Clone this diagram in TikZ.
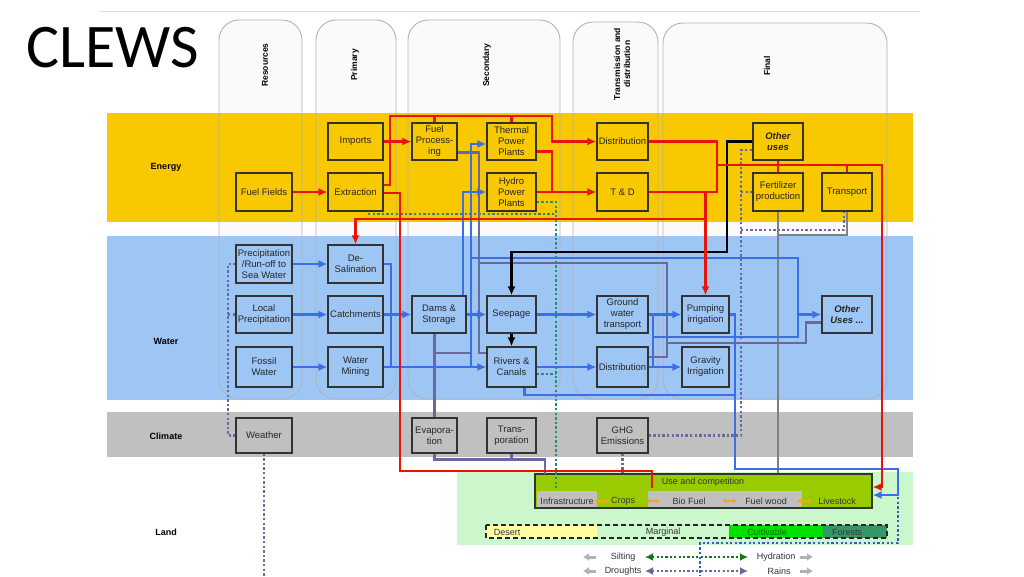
\documentclass[tikz,border=0pt]{standalone}
\usepackage{fontspec}
\setmainfont{Liberation Sans}
\newfontfamily\titlefont{Carlito}
\usetikzlibrary{arrows.meta,positioning,calc}
\definecolor{energy}{RGB}{248,200,0}
\definecolor{water}{RGB}{158,198,245}
\definecolor{climate}{RGB}{192,192,192}
\definecolor{land}{RGB}{204,247,204}
\definecolor{ucgreen}{RGB}{153,204,0}
\definecolor{eline}{RGB}{232,20,10}
\definecolor{wline}{RGB}{60,110,232}
\definecolor{sline}{RGB}{105,105,160}
\definecolor{gdot}{RGB}{40,140,110}
\definecolor{cultiv}{RGB}{0,225,0}
\definecolor{forest}{RGB}{55,150,105}
\definecolor{desert}{RGB}{255,255,160}
\definecolor{orangearr}{RGB}{245,165,40}
\definecolor{hydgreen}{RGB}{20,120,20}

\begin{document}
\begin{tikzpicture}[x=1pt,y=-1pt,
  box/.style={draw=black!80,line width=1.2pt,inner sep=0pt,align=center,text=black!85,
    font=\fontsize{9.5}{11}\selectfont,minimum width=56,minimum height=38},
  ebox/.style={box,fill=energy},
  wbox/.style={box,fill=water},
  cbox/.style={box,fill=climate},
  hdr/.style={rotate=90,font=\fontsize{8.5}{10}\selectfont\bfseries,align=center},
  band/.style={font=\fontsize{9}{10}\selectfont\bfseries},
  lbl/.style={inner sep=1pt,font=\fontsize{9}{10}\selectfont,text=black!80},
  eflow/.style={draw=eline,line width=2.8pt},
  wflow/.style={draw=wline,line width=2.8pt},
  sflow/.style={draw=sline,line width=2.5pt},
  kflow/.style={draw=black,line width=2.8pt},
  gline/.style={draw=gray,line width=2pt},
  dotline/.style={draw=sline,line width=2.3pt,dash pattern=on 2.3pt off 2.3pt},
  gdotline/.style={dotline,draw=gdot},
  tip/.style={-{Latex[length=9pt,width=8pt]}},
  col/.style={rounded corners=20pt}
]
\useasboundingbox (0,0) rectangle (1024,576);
\draw[gray!25,line width=0.8pt] (100,11) -- (920,11);
\node[font=\titlefont\fontsize{62}{62}\selectfont,inner sep=0pt] (title) at (113,48) {CLEWS};

% columns
\foreach \xa/\xb/\ya in {219/302/20, 316/396/20, 408/560/20, 573/658/22, 663/887/23}
  \fill[white!96!gray,col] (\xa,\ya) rectangle (\xb,399);

% bands
\fill[energy] (107,113) rectangle (913,222);
\fill[water] (107,236) rectangle (913,400);
\fill[climate] (107,412) rectangle (913,457);
\fill[land] (457,472) rectangle (913,545);
\foreach \xa/\xb/\ya in {219/302/20, 316/396/20, 408/560/20, 573/658/22, 663/887/23}
  \draw[gray!60,line width=0.9pt,col] (\xa,\ya) rectangle (\xb,399);

\node[band] (lenergy) at (166,167) {Energy};
\node[band] (lwater) at (166,341) {Water};
\node[band] (lclimate) at (166,436) {Climate};
\node[band] (lland) at (166,532) {Land};

\node[hdr] (hres) at (265,65) {Resources};
\node[hdr] (hprim) at (355,65) {Primary};
\node[hdr] (hsec) at (487,65) {Secondary};
\node[hdr] (htd) at (622,64) {Transmission and\\distribution};
\node[hdr] (hfin) at (767,66) {Final};

% energy boxes
\node[ebox,minimum width=55,minimum height=37] (imports) at (355.5,141.5) {Imports};
\node[ebox,minimum width=45,minimum height=37] (fuelproc) at (434.5,141.5) {Fuel\\Process-\\ing};
\node[ebox,minimum width=49,minimum height=37] (thermal) at (511.5,141.5) {Thermal\\Power\\Plants};
\node[ebox,minimum width=51,minimum height=37] (distE) at (622.5,141.5) {Distribution};
\node[ebox,minimum width=50,minimum height=37,font=\fontsize{9.5}{11}\selectfont\bfseries\itshape] (otherE) at (778,141.5) {Other\\uses};
\node[ebox] (fuelfields) at (264,192) {Fuel Fields};
\node[ebox,minimum width=55] (extraction) at (355.5,192) {Extraction};
\node[ebox,minimum width=49] (hydro) at (511.5,192) {Hydro\\Power\\Plants};
\node[ebox,minimum width=51] (td) at (622.5,192) {T \& D};
\node[ebox,minimum width=50] (fert) at (778,192) {Fertilizer\\production};
\node[ebox,minimum width=50] (transport) at (847,192) {Transport};

% water boxes
\node[wbox] (precip) at (264,264) {Precipitation\\/Run-off to\\Sea Water};
\node[wbox,minimum width=55] (desal) at (355.5,264) {De-\\Salination};
\node[wbox,minimum height=37] (localp) at (264,314.5) {Local\\Precipitation};
\node[wbox,minimum width=55,minimum height=37] (catch) at (355.5,314.5) {Catchments};
\node[wbox,minimum width=54,minimum height=37] (dams) at (439,314.5) {Dams \&\\Storage};
\node[wbox,minimum width=49,minimum height=37] (seepage) at (511.5,314.5) {Seepage};
\node[wbox,minimum width=51,minimum height=37] (gwt) at (622.5,314.5) {Ground\\water\\transport};
\node[wbox,minimum width=47,minimum height=37] (pump) at (705.5,314.5) {Pumping\\irrigation};
\node[wbox,minimum width=50,minimum height=37,font=\fontsize{9.5}{11}\selectfont\bfseries\itshape] (otherW) at (847,314.5) {Other\\Uses ...};
\node[wbox,minimum height=40] (fossil) at (264,367) {Fossil\\Water};
\node[wbox,minimum width=55,minimum height=40] (mining) at (355.5,367) {Water\\Mining};
\node[wbox,minimum width=49,minimum height=40] (rivers) at (511.5,367) {Rivers \&\\Canals};
\node[wbox,minimum width=51,minimum height=40] (distW) at (622.5,367) {Distribution};
\node[wbox,minimum width=47,minimum height=40] (gravity) at (705.5,367) {Gravity\\Irrigation};

% climate boxes
\node[cbox,minimum height=35] (weather) at (264,435.5) {Weather};
\node[cbox,minimum width=45,minimum height=35] (evap) at (434.5,435.5) {Evapora-\\tion};
\node[cbox,minimum width=49,minimum height=35] (transp) at (511.5,435.5) {Trans-\\poration};
\node[cbox,minimum width=51,minimum height=35] (ghg) at (622.5,435.5) {GHG\\Emissions};

% land use
\node[draw=black!80,line width=1.2pt,fill=ucgreen,minimum width=337,minimum height=34,inner sep=0pt] (usecomp) at (703.5,491) {};
\fill[climate] (537,491) rectangle (597,507);
\fill[climate] (648,491) rectangle (802,507);
\node[lbl] (uctitle) at (703,482) {Use and competition};
\node[lbl] (infra) at (567,501) {Infrastructure};
\node[lbl] (crops) at (623,501) {Crops};
\node[lbl] (biofuel) at (689,501) {Bio Fuel};
\node[lbl] (fuelwood) at (766,501) {Fuel wood};
\node[lbl] (livestock) at (837,501) {Livestock};
\foreach \xa/\xb in {594/610, 646/660, 722/737, 797/812}
  \draw[orangearr,line width=2.2pt,{Latex[length=4pt,width=5.5pt]}-{Latex[length=4pt,width=5.5pt]}] (\xa,501) -- (\xb,501);

\fill[desert] (486,525) rectangle (597,538);
\fill[cultiv] (729,525) rectangle (823,538);
\fill[forest] (823,525) rectangle (887,538);
\draw[black!85,line width=1.4pt,dash pattern=on 5pt off 3pt] (486,525) rectangle (887,538);
\node[lbl] (desertl) at (507,532) {Desert};
\node[lbl] (marginal) at (663,532) {Marginal};
\node[lbl,text=green!40!black] (cultivl) at (767,532) {Cultivable};
\node[lbl,text=black!80] (forestl) at (847,532) {Forests};

% legend
\node[lbl] (silt) at (623,557) {Silting};
\node[lbl] (hydr) at (776,557) {Hydration};
\node[lbl] (drought) at (623,571) {Droughts};
\node[lbl] (rains) at (779,571) {Rains};
\draw[hydgreen,line width=2.2pt,dash pattern=on 2.2pt off 2.2pt,{Latex[length=8pt,width=8pt]}-{Latex[length=8pt,width=8pt]}] (645,557) -- (748,557);
\draw[sline,line width=2.2pt,dash pattern=on 2.2pt off 2.2pt,{Latex[length=8pt,width=8pt]}-{Latex[length=8pt,width=8pt]}] (645,571) -- (748,571);
\foreach \y in {557,571} {
  \draw[gray!60,line width=3pt,-{Latex[length=6pt,width=8pt]}] (596,\y) -- (583,\y);
  \draw[gray!60,line width=3pt,-{Latex[length=6pt,width=8pt]}] (800,\y) -- (813,\y);
}

% helper points
\coordinate (etop) at (390,116);
\coordinate (ebot) at (705,219);
\coordinate (ej) at (717,165);
\coordinate (lbus) at (400,471);
\coordinate (wbus) at (471,258);
\coordinate (sbus) at (479,263);
\coordinate (kbus) at (727,252);
\coordinate (gbus) at (556,214);

% dotted links
\draw[dotline] (weather.west) -| (228,264) -- (precip.west);
\draw[dotline] (228,314.5) -- (localp.west);
\draw[dotline] (weather.south) -- (264,576);
\draw[dotline] (ghg.east) -| (741,150) -- ([yshift=-8.5pt]otherE.west);
\draw[dotline] (741,192) -- (fert.west);
\draw[dotline] (741,230) -| ([xshift=-3pt]transport.south);
\draw[dotline] (ghg.south) -- (ghg.south |- usecomp.north);
\draw[dotline,draw=wline!85!black] (898,497) -- (898,543) -- (700,543) -- (700,576);
\draw[gdotline] (368,214) -- (gbus);
\draw[gdotline] ([yshift=-10pt]hydro.east) -| (556,488);
\draw[gdotline] ([yshift=-7pt]rivers.east) -- (556,374);

% grey links
\draw[gline] (fert.south) -- (fert.south |- usecomp.north);
\draw[gline] (778,235) -| (transport.south);

% slate links
\draw[sflow] ([yshift=-11pt]fuelproc.east) -| (479,353) -- ([yshift=14pt]rivers.west);
\draw[sflow] (sbus) -| (667,357) -- ([yshift=10pt]distW.east);
\draw[sflow] (667,343) -- (806,343) |- ([yshift=-8pt]otherW.west);
\draw[sflow] (evap.north) -- (evap.north |- dams.south);
\draw[sflow] (434.5,353) -- (470,353);
\draw[sflow] (evap.south) -- ++(0,6) -| (545,474);
\draw[sflow] (transp.south) -- ++(0,6);

% water flows
\foreach \a/\b in {precip/desal, localp/catch, fossil/mining, catch/dams, mining/rivers,
                   dams/seepage, seepage/gwt, rivers/distW, gwt/pump, distW/gravity}
  \draw[wflow,tip] (\a.east) -- (\b.west);
\draw[wflow] (desal.east) -| (391,367);
\draw[wflow,tip] ([xshift=24pt]dams.north) |- (hydro.west);
\draw[wflow,tip] (471,367) |- ([yshift=-2.5pt]thermal.west);
\draw[wflow,tip] (wbus) -- (798,258) |- (otherW.west);
\draw[wflow] (798,314.5) -- (798,337) -- (653,337);
\draw[wflow] (653,314.5) -- (653,367);
\draw[wflow] (pump.east) -| (735,395);
\draw[wflow,tip] ([xshift=13pt]rivers.south) |- (735,395) -- (735,469) -- (898,469) |- ([yshift=-4pt]usecomp.east);

% black links
\draw[kflow,tip] (otherE.west) -| (kbus) -| (seepage.north);
\draw[kflow,tip] (seepage.south) -- (rivers.north);

% energy flows
\draw[eflow,tip] (fuelfields.east) -- (extraction.west);
\draw[eflow,tip] (imports.east) -- (fuelproc.west);
\draw[eflow,tip] ([yshift=7pt]extraction.east) -| (etop) -- (552,116) |- (distE.west);
\draw[eflow] (fuelproc.north) -- (fuelproc.north |- etop);
\draw[eflow] (thermal.north) -- (thermal.north |- etop);
\draw[eflow] ([yshift=-10pt]thermal.east) -| (552,192);
\draw[eflow,tip] (hydro.east) -- (td.west);
\draw[eflow] ([yshift=-1pt]extraction.east) -| (lbus) -| (652,488);
\draw[eflow] (distE.east) -| (ej) |- (td.east);
\draw[eflow,tip] (ej) -- (882,165) |- ([yshift=4pt]usecomp.east);
\draw[eflow] (otherE.south) -- (fert.north);
\draw[eflow] (transport.north) -- (transport.north |- ej);
\draw[eflow,tip] (pump.north |- td.east) -- (pump.north);
\draw[eflow,tip] (pump.north |- ebot) -| (desal.north);
\end{tikzpicture}
\end{document}
